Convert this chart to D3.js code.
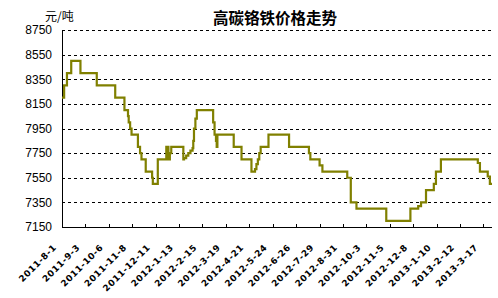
<!DOCTYPE html>
<html>
<head>
<meta charset="utf-8">
<script src="https://cdn.jsdelivr.net/npm/d3@7"></script>
<style>
  body { margin: 0; background: #fff; }
  svg { display: block; }
</style>
</head>
<body>
<div id="chart"></div>
<script>
// price change points (price holds until next date)
var changeDates = [
  '2011-08-01', '2011-08-04', '2011-08-08', '2011-08-14', '2011-08-27', '2011-09-19',
  '2011-10-15', '2011-10-28', '2011-11-02', '2011-11-03', '2011-11-05', '2011-11-07',
  '2011-11-16', '2011-11-19', '2011-11-21', '2011-11-27', '2011-12-06', '2011-12-07',
  '2011-12-14', '2011-12-26', '2011-12-29', '2011-12-31', '2012-01-02', '2012-01-19',
  '2012-01-20', '2012-01-23', '2012-01-26', '2012-01-29', '2012-02-01', '2012-02-02',
  '2012-02-03', '2012-02-05', '2012-02-07', '2012-03-01', '2012-03-03', '2012-03-05',
  '2012-03-06', '2012-03-07', '2012-03-30', '2012-04-10', '2012-04-24', '2012-04-29',
  '2012-05-01', '2012-05-03', '2012-05-05', '2012-05-07', '2012-05-18', '2012-06-16',
  '2012-07-14', '2012-07-16', '2012-07-29', '2012-08-02', '2012-09-06', '2012-09-11',
  '2012-09-19', '2012-10-31', '2012-12-04', '2012-12-15', '2012-12-19', '2012-12-26',
  '2013-01-06', '2013-01-09', '2013-01-16', '2013-03-09', '2013-03-12', '2013-03-23',
  '2013-03-26', '2013-03-29'
];
var prices = [
  8200, 8300, 8400, 8500, 8400, 8300,
  8200, 8100, 8050, 8000, 7950, 7900,
  7800, 7750, 7700, 7600, 7550, 7500,
  7700, 7800, 7700, 7750, 7800, 7700,
  7710, 7730, 7750, 7770, 7790, 7850,
  7950, 8030, 8100, 8000, 7900, 7850,
  7800, 7900, 7800, 7700, 7600, 7620,
  7660, 7700, 7750, 7800, 7900, 7800,
  7750, 7700, 7650, 7600, 7550, 7350,
  7300, 7200, 7300, 7320, 7350, 7450,
  7500, 7600, 7700, 7670, 7600, 7560,
  7500, 7500
];
var tickLabels = [
  '2011-8-1', '2011-9-3', '2011-10-6', '2011-11-8', '2011-12-11', '2012-1-13',
  '2012-2-15', '2012-3-19', '2012-4-21', '2012-5-24', '2012-6-26', '2012-7-29',
  '2012-8-31', '2012-10-3', '2012-11-5', '2012-12-8', '2013-1-10', '2013-2-12',
  '2013-3-17'
];
var yTicks = [7150, 7350, 7550, 7750, 7950, 8150, 8350, 8550, 8750];

var W = 498, H = 298;
var plotL = 62, plotR = 492, plotT = 30, plotB = 227;

var parse = d3.utcParse('%Y-%m-%d');
var parseLabel = d3.utcParse('%Y-%-m-%-d');

var data = changeDates.map(function(d, i) {
  return { date: parse(d), value: prices[i] };
});

var x = d3.scaleUtc()
  .domain([parse('2011-08-01'), parse('2013-03-29')])
  .range([plotL, plotR]);

var y = d3.scaleLinear()
  .domain([7150, 8750])
  .range([plotB, plotT]);

var svg = d3.select('#chart').append('svg')
  .attr('width', W)
  .attr('height', H);

// dashed grid lines
svg.append('g').selectAll('line')
  .data(yTicks.slice(1))
  .enter().append('line')
  .attr('x1', plotL)
  .attr('x2', plotR + 1)
  .attr('y1', function(d) { return Math.round(y(d)) + 0.5; })
  .attr('y2', function(d) { return Math.round(y(d)) + 0.5; })
  .attr('stroke', '#000')
  .attr('stroke-width', 1)
  .attr('stroke-dasharray', '3,3');

// y labels
svg.append('g').selectAll('text')
  .data(yTicks)
  .enter().append('text')
  .attr('x', 52)
  .attr('y', function(d) { return y(d); })
  .attr('dy', '0.36em')
  .attr('text-anchor', 'end')
  .attr('font-family', 'Liberation Sans, Arial, sans-serif')
  .attr('font-size', 12)
  .attr('fill', '#000')
  .text(function(d) { return d; });

// axes lines
svg.append('line')
  .attr('x1', plotL + 0.5).attr('x2', plotL + 0.5)
  .attr('y1', plotT).attr('y2', plotB + 0.5)
  .attr('stroke', '#000');

svg.append('line')
  .attr('x1', plotL).attr('x2', plotR)
  .attr('y1', plotB + 0.5).attr('y2', plotB + 0.5)
  .attr('stroke', '#000');

// x ticks (inside) + rotated labels
var tickDates = tickLabels.map(function(d) { return parseLabel(d); });

svg.append('g').selectAll('line')
  .data(tickDates)
  .enter().append('line')
  .attr('x1', function(d) { return Math.round(x(d)) + 0.5; })
  .attr('x2', function(d) { return Math.round(x(d)) + 0.5; })
  .attr('y1', plotB - 3)
  .attr('y2', plotB)
  .attr('stroke', '#000');

svg.append('g').selectAll('text')
  .data(tickLabels)
  .enter().append('text')
  .attr('transform', function(d, i) {
    return 'translate(' + (x(tickDates[i]) - 5) + ',' + 248 + ') rotate(-45)';
  })
  .attr('text-anchor', 'end')
  .attr('font-family', 'DejaVu Sans, sans-serif')
  .attr('font-weight', 'bold')
  .attr('font-size', 8.8)
  .attr('letter-spacing', 0.6)
  .attr('fill', '#000')
  .text(function(d) { return d; });

// price line
var line = d3.line()
  .x(function(d) { return x(d.date); })
  .y(function(d) { return y(d.value); })
  .curve(d3.curveStepAfter);

svg.append('path')
  .datum(data)
  .attr('d', line)
  .attr('fill', 'none')
  .attr('stroke', '#808000')
  .attr('stroke-width', 2.2);

// unit + title
svg.append('text')
  .attr('x', 45)
  .attr('y', 21)
  .attr('font-family', 'Noto Sans CJK SC, sans-serif')
  .attr('font-size', 12)
  .attr('fill', '#000')
  .text('元/吨');

svg.append('text')
  .attr('x', 275)
  .attr('y', 24)
  .attr('text-anchor', 'middle')
  .attr('font-family', 'Noto Sans CJK SC, sans-serif')
  .attr('font-weight', 'bold')
  .attr('font-size', 15.5)
  .attr('fill', '#000')
  .text('高碳铬铁价格走势');
</script>
</body>
</html>
